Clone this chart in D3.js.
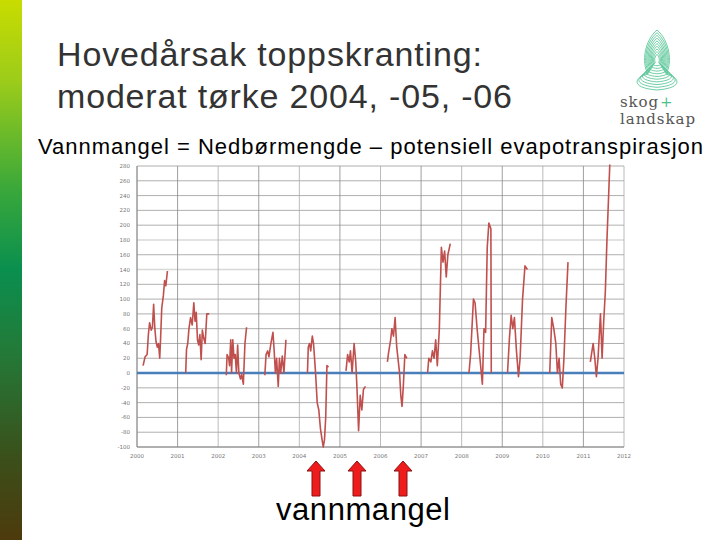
<!DOCTYPE html>
<html><head><meta charset="utf-8">
<script src="https://cdn.jsdelivr.net/npm/d3@7"></script>
<style>body{margin:0;background:#fff}svg{display:block}</style>
</head><body>
<svg id="c" width="720" height="540"></svg>
<script>
const yTicks = d3.range(-100, 281, 20);
const xYears = d3.range(2000, 2013);
const baseline = [[2000, 0], [2012, 0]];
const s2000 = [[2000.15,10],[2000.2,22],[2000.25,25],[2000.28,52],[2000.31,68],[2000.35,58],[2000.38,62],[2000.41,93],[2000.44,60],[2000.47,42],[2000.5,35],[2000.53,40],[2000.56,20],[2000.58,45],[2000.61,88],[2000.65,105],[2000.68,125],[2000.71,118],[2000.75,138]];
const s2001 = [[2001.2,0],[2001.22,32],[2001.25,40],[2001.28,60],[2001.32,75],[2001.36,65],[2001.4,95],[2001.43,70],[2001.46,82],[2001.49,45],[2001.52,38],[2001.55,52],[2001.58,18],[2001.61,58],[2001.64,48],[2001.68,40],[2001.72,80],[2001.78,80]];
const s2002 = [[2002.2,-3],[2002.22,25],[2002.26,20],[2002.28,10],[2002.31,45],[2002.33,0],[2002.36,45],[2002.39,20],[2002.42,25],[2002.45,0],[2002.48,38],[2002.51,0],[2002.55,-8],[2002.58,-2],[2002.62,-15],[2002.66,40],[2002.7,62]];
const s2003 = [[2003.15,-3],[2003.18,25],[2003.22,30],[2003.25,22],[2003.3,40],[2003.35,55],[2003.38,30],[2003.41,0],[2003.44,20],[2003.48,-18],[2003.51,20],[2003.54,0],[2003.58,23],[2003.62,0],[2003.67,45]];
const s2004 = [[2004.2,0],[2004.22,35],[2004.25,40],[2004.28,30],[2004.32,50],[2004.35,40],[2004.4,0],[2004.44,-40],[2004.48,-50],[2004.52,-75],[2004.56,-90],[2004.59,-100],[2004.62,-90],[2004.65,-60],[2004.68,10],[2004.72,8]];
const s2005 = [[2005.15,3],[2005.19,25],[2005.23,15],[2005.26,30],[2005.3,0],[2005.35,40],[2005.39,15],[2005.42,-20],[2005.46,-78],[2005.5,-30],[2005.54,-50],[2005.58,-22],[2005.63,-18]];
const s2006 = [[2006.17,15],[2006.2,28],[2006.25,45],[2006.28,60],[2006.32,50],[2006.36,75],[2006.4,35],[2006.44,15],[2006.47,0],[2006.5,-30],[2006.53,-45],[2006.56,-20],[2006.6,25],[2006.65,20]];
const s2007 = [[2007.16,0],[2007.19,20],[2007.24,15],[2007.28,30],[2007.32,20],[2007.36,45],[2007.4,10],[2007.45,60],[2007.5,170],[2007.54,150],[2007.58,165],[2007.62,130],[2007.66,160],[2007.72,175]];
const s2008 = [[2008.18,0],[2008.22,25],[2008.29,100],[2008.33,95],[2008.38,60],[2008.45,20],[2008.51,-15],[2008.55,60],[2008.59,55],[2008.63,170],[2008.67,203],[2008.72,195],[2008.73,0]];
const s2009 = [[2009.13,0],[2009.18,50],[2009.22,78],[2009.26,60],[2009.3,75],[2009.35,30],[2009.4,-5],[2009.44,20],[2009.5,100],[2009.56,145],[2009.62,140]];
const s2010 = [[2010.17,0],[2010.22,75],[2010.27,60],[2010.32,40],[2010.36,0],[2010.4,20],[2010.44,-15],[2010.48,-20],[2010.52,20],[2010.57,90],[2010.62,150]];
const s2011 = [[2011.17,15],[2011.24,40],[2011.28,20],[2011.32,-5],[2011.36,20],[2011.42,80],[2011.46,20],[2011.5,70],[2011.54,110],[2011.58,180],[2011.65,285]];
const series = [s2000,s2001,s2002,s2003,s2004,s2005,s2006,s2007,s2008,s2009,s2010,s2011];

const svg = d3.select('#c');
const defs = svg.append('defs');
const g = defs.append('linearGradient').attr('id','lg').attr('x1',0).attr('y1',0).attr('x2',0).attr('y2',1);
[[0,'#c8dc00'],[0.15,'#9ccc1a'],[0.35,'#3aa83a'],[0.5,'#0a8f4f'],[0.65,'#237a38'],[0.85,'#3b4f1a'],[1,'#4d3a0c']].forEach(([o,c])=>g.append('stop').attr('offset',o).attr('stop-color',c));
svg.append('rect').attr('x',0).attr('y',0).attr('width',22).attr('height',540).attr('fill','url(#lg)');

const F = 'Liberation Sans, Arial';
svg.append('text').attr('x',57).attr('y',66).attr('font-family',F).attr('font-size',34).attr('fill','#333').attr('textLength',425).text('Hovedårsak toppskranting:');
svg.append('text').attr('x',57).attr('y',108).attr('font-family',F).attr('font-size',34).attr('fill','#333').attr('textLength',455).text('moderat tørke 2004, -05, -06');
svg.append('text').attr('x',38).attr('y',154).attr('font-family',F).attr('font-size',22).attr('fill','#000').attr('textLength',665).text('Vannmangel = Nedbørmengde – potensiell evapotranspirasjon');

const lg = svg.append('g').attr('transform','translate(657,60)');
for (let i=0;i<10;i++){
  const s = 1 - i*0.09;
  lg.append('path').attr('d',`M0,${-30*s} C${12*s},${-20*s} ${16*s},${2*s} ${9*s},${14*s} C${24*s},${18*s} ${26*s},${28*s} ${0},${30*s} C${-26*s},${28*s} ${-24*s},${18*s} ${-9*s},${14*s} C${-16*s},${2*s} ${-12*s},${-20*s} 0,${-30*s}Z`)
    .attr('fill','none').attr('stroke','#5cc79a').attr('stroke-width',0.9);
}
svg.append('text').attr('x',620).attr('y',107).attr('font-family','DejaVu Serif, serif').attr('font-size',15).attr('fill','#555').attr('textLength',38).text('skog');
svg.append('text').attr('x',660).attr('y',107).attr('font-family','DejaVu Serif, serif').attr('font-size',15).attr('fill','#4cbf8a').text('+');
svg.append('text').attr('x',620).attr('y',124).attr('font-family','DejaVu Serif, serif').attr('font-size',15).attr('fill','#555').attr('textLength',75).text('landskap');

const x = d3.scaleLinear().domain([2000,2012]).range([137,624]);
const y = d3.scaleLinear().domain([-100,280]).range([447,166]);
const ch = svg.append('g');
ch.selectAll('.hg').data(yTicks).join('line').attr('x1',137).attr('x2',624).attr('y1',d=>y(d)).attr('y2',d=>y(d))
  .attr('stroke',d=>(d===180||d===140)?'#d8d8d8':'#9a9a9a').attr('stroke-width',d=>(d===180||d===140)?1.6:0.8);
ch.selectAll('.vg').data(xYears).join('line').attr('y1',166).attr('y2',447).attr('x1',d=>x(d)).attr('x2',d=>x(d))
  .attr('stroke',d=>d%2? '#888':'#aaa').attr('stroke-width',0.8);
ch.append('line').attr('x1',137).attr('x2',137).attr('y1',166).attr('y2',447).attr('stroke','#888');
ch.append('line').attr('x1',137).attr('x2',624).attr('y1',447).attr('y2',447).attr('stroke','#888');
ch.selectAll('.yl').data(yTicks).join('text').attr('x',130).attr('y',d=>y(d)+2).attr('text-anchor','end')
  .attr('font-family','DejaVu Sans').attr('font-size',5.5).attr('fill','#777').text(d=>d);
ch.selectAll('.xl').data(xYears).join('text').attr('x',d=>x(d)).attr('y',458).attr('text-anchor','middle')
  .attr('font-family','DejaVu Sans').attr('font-size',5.5).attr('fill','#777').text(d=>d);
const line = d3.line().x(d=>x(d[0])).y(d=>y(Math.min(d[1],282)));
ch.append('path').attr('d',line(baseline)).attr('stroke','#4a7ebb').attr('stroke-width',2.5).attr('fill','none');
series.forEach(s=>ch.append('path').attr('d',line(s)).attr('stroke','#c0504d').attr('stroke-width',1.6).attr('fill','none').attr('stroke-linejoin','round'));

[316,357,403].forEach(ax=>{
  svg.append('path').attr('d',`M${ax},461 L${ax+9},471 L${ax+4},471 L${ax+4},496 L${ax-4},496 L${ax-4},471 L${ax-9},471 Z`)
    .attr('fill','#ee1c1c').attr('stroke','#8b1010').attr('stroke-width',1);
});
svg.append('text').attr('x',363).attr('y',520).attr('text-anchor','middle').attr('font-family',F).attr('font-size',31).attr('fill','#000').attr('textLength',174).text('vannmangel');
</script>
</body></html>
